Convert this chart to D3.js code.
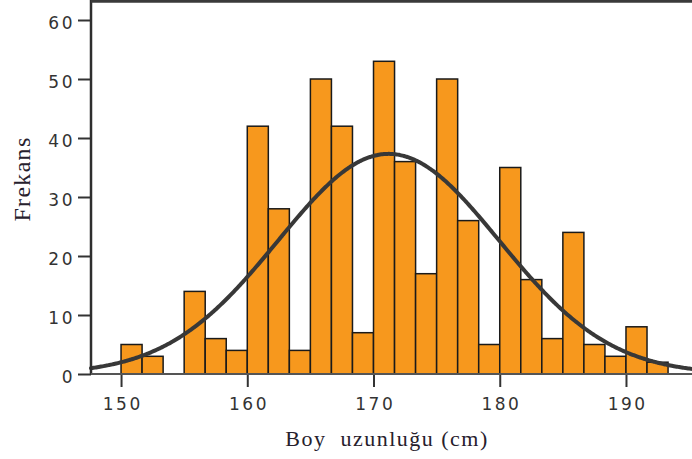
<!DOCTYPE html>
<html>
<head>
<meta charset="utf-8">
<script src="https://cdn.jsdelivr.net/npm/d3@7"></script>
<style>
  html, body { margin: 0; padding: 0; background: #fff; }
  svg { display: block; }
</style>
</head>
<body>
<script>
// Histogram of body height (cm) with a fitted normal curve.
const binStart = 150;
const binWidth = 5 / 3;
const counts = [5, 3, 0, 14, 6, 4, 42, 28, 4, 50, 42, 7, 53, 36, 17, 50, 26, 5, 35, 16, 6, 24, 5, 3, 8, 2];
const xTicks = [150, 160, 170, 180, 190];
const yTicks = [0, 10, 20, 30, 40, 50, 60];
const fitMean = 171.2;
const fitSd = 8.75;
const xTitle = "Boy  uzunluğu (cm)";
const yTitle = "Frekans";

const W = 692, H = 459;
const svg = d3.select("body").append("svg").attr("width", W).attr("height", H);

const x = d3.scaleLinear().domain([147.62, 195.23]).range([91, 692]);
const y = d3.scaleLinear().domain([0, 60]).range([374, 20]);

const bins = counts.map((c, i) => ({ x0: binStart + i * binWidth, x1: binStart + (i + 1) * binWidth, n: c }));
const total = d3.sum(counts);

// bars
svg.append("g").selectAll("rect")
  .data(bins.filter(d => d.n > 0))
  .join("rect")
  .attr("x", d => x(d.x0))
  .attr("y", d => y(d.n))
  .attr("width", d => x(d.x1) - x(d.x0))
  .attr("height", d => y(0) - y(d.n))
  .attr("fill", "#f7981d")
  .attr("stroke", "#1a1a1a")
  .attr("stroke-width", 1.5);

// fitted normal curve scaled to counts
const dens = v => total * binWidth / (fitSd * Math.sqrt(2 * Math.PI)) * Math.exp(-((v - fitMean) ** 2) / (2 * fitSd * fitSd));
const xs = d3.range(x.domain()[0], x.domain()[1] + 0.05, 0.1);
svg.append("path")
  .datum(xs)
  .attr("d", d3.line().x(v => x(v)).y(v => y(dens(v))).curve(d3.curveBasis))
  .attr("fill", "none")
  .attr("stroke", "#383838")
  .attr("stroke-width", 4)
  .attr("stroke-linecap", "round");

// axes
const yAxis = svg.append("g")
  .attr("transform", `translate(${x.range()[0]},0)`)
  .call(d3.axisLeft(y).tickValues(yTicks).tickSize(13).tickSizeOuter(0).tickPadding(3));
const xAxis = svg.append("g")
  .attr("transform", `translate(0,${y(0)})`)
  .call(d3.axisBottom(x).tickValues(xTicks).tickSize(13).tickSizeOuter(0).tickPadding(11));

[yAxis, xAxis].forEach(g => {
  g.select(".domain").remove();
  g.selectAll(".tick line").attr("stroke", "#333").attr("stroke-width", 2);
  g.selectAll(".tick text")
    .attr("fill", "#333")
    .style("font-family", "'DejaVu Sans', sans-serif")
    .style("font-size", "17px")
    .style("letter-spacing", "2.5px");
});
yAxis.selectAll(".tick text").attr("dy", "0.72em").attr("y", -4);
xAxis.selectAll(".tick text").attr("dx", "1.2px");

// frame lines
svg.append("line").attr("x1", x.range()[0]).attr("x2", x.range()[0]).attr("y1", 0).attr("y2", y(0) + 1)
  .attr("stroke", "#2e2e2e").attr("stroke-width", 2.5);
svg.append("line").attr("x1", x.range()[0]).attr("x2", W).attr("y1", y(0)).attr("y2", y(0))
  .attr("stroke", "#555").attr("stroke-width", 2);
svg.append("line").attr("x1", x.range()[0]).attr("x2", W).attr("y1", 1.2).attr("y2", 1.2)
  .attr("stroke", "#3a3a3a").attr("stroke-width", 3);

// titles
svg.append("text")
  .attr("x", 387).attr("y", 446)
  .attr("text-anchor", "middle")
  .attr("fill", "#26202c")
  .style("font-family", "'Liberation Serif', 'Times New Roman', serif")
  .style("font-size", "22px")
  .style("letter-spacing", "1.5px")
  .style("white-space", "pre")
  .text(xTitle);

svg.append("text")
  .attr("transform", "translate(30,179) rotate(-90)")
  .attr("text-anchor", "middle")
  .attr("fill", "#26202c")
  .style("font-family", "'Liberation Serif', 'Times New Roman', serif")
  .style("font-size", "24px")
  .style("letter-spacing", "1.3px")
  .text(yTitle);
</script>
</body>
</html>
